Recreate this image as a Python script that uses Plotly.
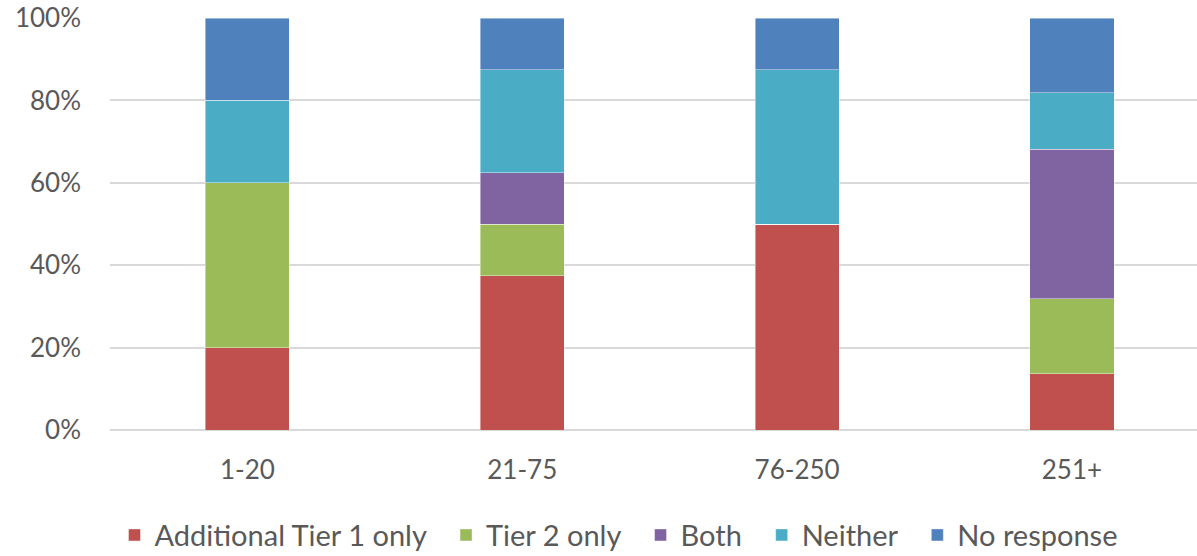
import plotly.graph_objects as go

# Доли ответов по размеру организации (в процентах)
categories = ["1-20", "21-75", "76-250", "251+"]
series_names = ["Additional Tier 1 only", "Tier 2 only", "Both", "Neither", "No response"]
tier1_only = [20.0, 37.5, 50.0, 13.6]
tier2_only = [40.0, 12.5, 0.0, 18.2]
both = [0.0, 12.5, 0.0, 36.4]
neither = [20.0, 25.0, 37.5, 13.6]
no_response = [20.0, 12.5, 12.5, 18.2]

colors = ["#C0504D", "#9BBB59", "#8064A2", "#4BACC6", "#4F81BD"]
values = [tier1_only, tier2_only, both, neither, no_response]

fig = go.Figure()
for name, vals, color in zip(series_names, values, colors):
    fig.add_trace(go.Bar(
        x=categories,
        y=vals,
        # неразрывные пробелы — чтобы интервалы в легенде были как в оригинале
        name=name + "\u00a0\u00a0",
        marker=dict(color=color, line=dict(color="rgba(255,255,255,0.6)", width=0.7)),
        width=0.306,
    ))

fig.update_layout(
    barmode="stack",
    width=1197,
    height=556,
    margin=dict(l=110, r=0, t=18, b=126, autoexpand=False),
    plot_bgcolor="white",
    paper_bgcolor="white",
    font=dict(family="Lato, Calibri, sans-serif", size=26, color="#595959"),
    legend=dict(
        orientation="h",
        x=0.4747,
        xanchor="center",
        y=-0.255,
        yanchor="middle",
        font=dict(size=29, color="#595959"),
        itemwidth=30,
        traceorder="normal",
    ),
)
fig.update_xaxes(
    range=[-0.5, 3.455],
    showgrid=False,
    showline=False,
    ticks="",
    ticklabelstandoff=22,
)
fig.update_yaxes(
    range=[0, 100],
    tickvals=[0, 20, 40, 60, 80, 100],
    ticktext=["0%", "20%", "40%", "60%", "80%", "100%"],
    showgrid=True,
    gridcolor="#D9D9D9",
    gridwidth=1.5,
    zeroline=True,
    zerolinecolor="#D9D9D9",
    zerolinewidth=1.5,
    showline=False,
    ticks="",
    ticklabelstandoff=28,
)

# убираем стандартный отступ body, чтобы график начинался с (0, 0)
fig.write_html(
    "out.html",
    config={"displayModeBar": False},
    post_script="document.body.style.margin='0';",
)
